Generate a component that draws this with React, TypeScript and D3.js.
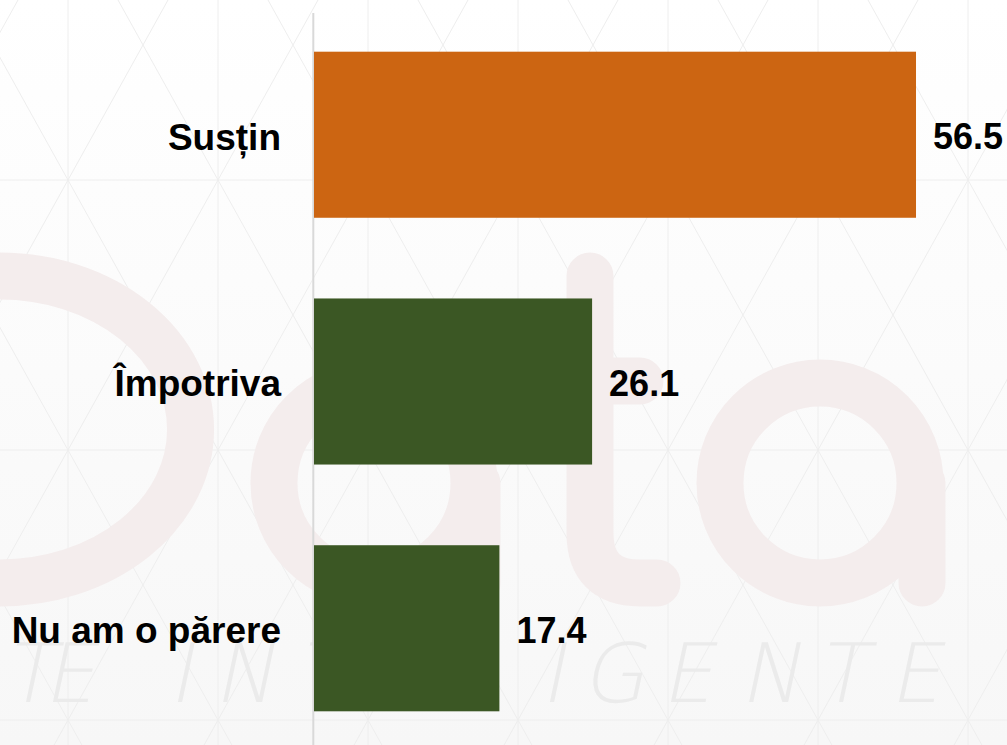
import * as d3 from 'd3';

// survey answers and their shares (%)
const categories = ['Susțin', 'Împotriva', 'Nu am o părere'];
const values = [56.5, 26.1, 17.4];
const barColors = ['#cc6512', '#3b5724', '#3b5724'];

// watermark letters of the background image
const markLetters = ['T', 'E', 'I', 'N', 'T', 'E', 'L', 'I', 'G', 'E', 'N', 'T', 'E'];
const markLetterX = [28, 69, 180, 244, 321, 398, 475, 552, 613, 687, 770, 841, 915];

const width = 1007;
const height = 745;

function Background() {
  const verticals = d3.range(68, width, 150);
  const horizontals = d3.range(180, height, 270);
  const slope = 5 / 9;
  const diagA = d3.range(-32 - 600, width + 150, 150);
  const diagB = d3.range(18, width + 600, 150);
  const lineColor = '#eeeeee';
  const ink = '#f4eded';
  return (
    <g>
      <defs>
        <linearGradient id="bg" x1="0" y1="0" x2="0" y2="1">
          <stop offset="0" stopColor="#ffffff" />
          <stop offset="1" stopColor="#f7f7f7" />
        </linearGradient>
      </defs>
      <rect width={width} height={height} fill="url(#bg)" />
      {verticals.map(x => (
        <line key={'v' + x} x1={x} x2={x} y1={0} y2={height} stroke={lineColor} strokeWidth={1} />
      ))}
      {horizontals.map(y => (
        <line key={'h' + y} x1={0} x2={width} y1={y} y2={y} stroke={lineColor} strokeWidth={1} />
      ))}
      {diagA.map(c => (
        <line key={'a' + c} x1={c} y1={0} x2={c + slope * height} y2={height} stroke={lineColor} strokeWidth={1} />
      ))}
      {diagB.map(c => (
        <line key={'b' + c} x1={c} y1={0} x2={c - slope * height} y2={height} stroke={lineColor} strokeWidth={1} />
      ))}
      {/* "Data" logo */}
      <g fill="none" stroke={ink} strokeWidth={47} strokeLinecap="round">
        <path d="M -60 276 L 0 276 A 190 153 0 0 1 0 583 L -60 583" />
        <circle cx={374} cy={483} r={100} />
        <line x1={477} y1={483} x2={477} y2={583} />
        <path d="M 590 276 L 590 533 Q 590 583 640 583 L 657 583" />
        <line x1={520} y1={381} x2={640} y2={381} />
        <circle cx={820} cy={483} r={100} />
        <line x1={922} y1={483} x2={922} y2={583} />
      </g>
      {markLetters.map((l, i) => (
        <text
          key={'l' + i}
          transform={`translate(${markLetterX[i]},702) skewX(-12)`}
          textAnchor="middle"
          fontFamily="DejaVu Sans"
          fontWeight={200}
          fontSize={82}
          fill="#ebebeb"
        >
          {l}
        </text>
      ))}
    </g>
  );
}

export default function App() {
  const x = d3.scaleLinear().domain([0, 60]).range([314, 953.3]);
  const y = d3.scaleBand<string>().domain(categories).range([-29, 792]).paddingInner(0.327).paddingOuter(0.327);

  return (
    <svg
      width={width}
      height={height}
      style={{ position: 'absolute', left: 0, top: 0, display: 'block' }}
      fontFamily="'Liberation Sans', Arial, sans-serif"
    >
      <Background />
      <line x1={313.3} x2={313.3} y1={13} y2={height} stroke="#d9d9d9" strokeWidth={2} />
      {categories.map((c, i) => {
        const cy = (y(c) ?? 0) + y.bandwidth() / 2;
        return (
          <g key={c}>
            <rect x={x(0)} y={y(c)} width={x(values[i]) - x(0)} height={y.bandwidth()} fill={barColors[i]} />
            <text x={281} y={cy} dy="0.4em" textAnchor="end" fontSize={37} fontWeight="bold" fill="#000">
              {c}
            </text>
            <text x={x(values[i]) + 17} y={cy} dy="0.4em" fontSize={36} fontWeight="bold" fill="#000">
              {values[i].toFixed(1)}
            </text>
          </g>
        );
      })}
    </svg>
  );
}
